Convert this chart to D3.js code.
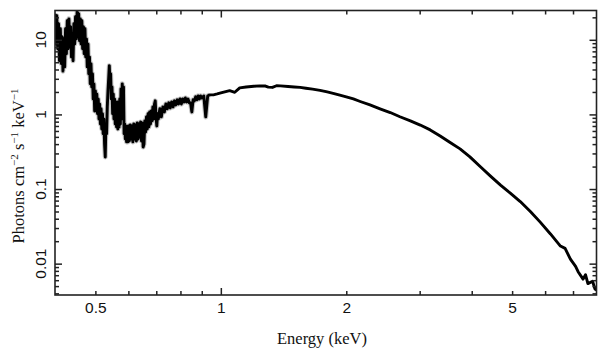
<!DOCTYPE html>
<html><head><meta charset="utf-8">
<script src="https://cdn.jsdelivr.net/npm/d3@7"></script>
<style>body{margin:0;background:#fff}svg{display:block}</style>
</head><body>
<svg id="c" width="608" height="357"></svg>
<script>
// Spectrum: energy (keV) and flux (photons cm^-2 s^-1 keV^-1)
const energy = [
0.400,0.402,0.404,0.406,0.408,0.410,0.412,0.414,0.416,0.418,0.420,0.422,0.424,0.426,0.428,0.430,0.432,0.434,0.436,0.438,
0.440,0.442,0.444,0.446,0.448,0.450,0.452,0.454,0.456,0.458,0.460,0.462,0.464,0.466,0.468,0.470,0.472,0.474,0.476,0.478,
0.480,0.482,0.484,0.486,0.488,0.490,0.492,0.494,0.496,0.498,0.500,
0.502,0.504,0.506,0.508,0.510,0.512,0.514,0.516,0.518,0.520,0.522,0.524,0.526,0.528,0.530,0.532,0.534,0.536,0.538,0.540,
0.542,0.544,0.546,0.548,0.550,0.552,0.554,0.556,0.558,0.560,0.562,0.564,0.566,0.568,0.570,0.572,0.574,0.576,0.578,0.580,
0.582,0.584,0.586,0.588,0.590,0.592,0.594,0.596,0.598,0.600,
0.603,0.606,0.609,0.612,0.615,0.618,0.621,0.624,0.627,0.630,0.633,0.636,0.639,0.642,0.645,0.648,0.651,0.654,
0.657,0.660,0.663,0.666,0.669,0.672,0.675,0.678,0.681,0.684,0.687,0.690,0.693,0.696,0.699,0.702,0.705,0.708,
0.714,0.720,0.726,0.732,0.738,0.744,0.750,0.756,0.762,0.768,0.774,0.780,0.786,0.792,0.798,0.804,
0.810,0.816,0.822,0.828,0.834,0.840,0.846,0.852,0.858,0.864,0.870,0.876,0.882,0.888,0.894,0.900,
0.910,0.920,0.930,0.940,0.960,0.980,
1.00,1.05,1.08,1.11,1.15,1.20,1.24,1.28,1.30,1.33,1.36,1.39,1.45,1.50,1.55,1.60,1.66,1.73,1.80,1.87,1.93,
2.00,2.08,2.16,2.28,2.41,2.55,2.69,2.85,3.01,3.18,3.36,3.55,3.75,3.96,4.19,4.43,4.69,4.95,5.23,5.53,5.84,6.18,
6.53,6.70,6.90,7.10,7.20,7.40,7.50,7.60,7.80,7.90,7.97];
const flux = [
22.3,8.8,21.0,7.6,16.4,5.23,14.1,4.8,11.0,3.8,10.3,4.34,14.1,6.5,18.0,7.6,19.1,8.05,15.0,5.9,
12.0,5.23,16.4,8.8,20.4,10.3,23.8,11.0,22.3,9.7,19.1,8.8,18.0,7.6,15.0,6.5,14.1,5.9,10.3,4.34,
8.8,3.5,5.9,2.57,4.8,2.34,3.5,1.61,2.57,1.11,2.07,
1.11,1.88,1.02,1.61,0.87,1.38,0.745,1.19,0.638,1.02,0.55,0.87,0.40,0.269,0.745,0.55,1.26,2.07,3.0,4.5,
2.57,3.5,1.61,2.34,1.02,1.88,0.87,1.61,0.745,1.38,0.680,1.47,0.638,1.38,0.680,1.61,0.745,2.20,0.87,2.57,
1.19,2.34,0.55,0.745,0.469,0.701,0.428,0.680,0.428,0.701,
0.441,0.723,0.469,0.701,0.428,0.745,0.469,0.723,0.441,0.769,0.469,0.745,0.499,0.793,0.441,0.769,0.366,0.40,
0.82,0.582,0.926,0.638,1.02,0.680,1.08,0.745,1.11,0.82,1.26,0.87,1.38,1.52,0.926,0.701,1.02,0.87,
1.19,0.926,1.26,1.08,1.38,1.19,1.43,1.22,1.47,1.26,1.52,1.34,1.57,1.38,1.61,1.38,
1.61,1.47,1.66,1.47,1.61,1.43,1.43,1.08,1.57,1.52,1.72,1.57,1.77,1.61,1.77,1.66,
1.77,0.926,1.77,1.83,1.83,1.88,
1.94,2.08,1.98,2.27,2.33,2.38,2.41,2.40,2.32,2.30,2.42,2.41,2.37,2.33,2.30,2.24,2.18,2.10,2.00,1.90,1.81,
1.72,1.61,1.49,1.34,1.19,1.06,0.93,0.82,0.72,0.62,0.515,0.42,0.345,0.27,0.20,0.15,0.113,0.088,0.068,0.050,0.036,0.025,
0.0172,0.0160,0.0115,0.0092,0.0078,0.0062,0.0071,0.0054,0.0058,0.0046,0.0044];

const xMinor = [0.5,0.6,0.7,0.8,0.9,2,3,4,5,6,7];
const xMajor = [1];
const xLabels = [0.5,1,2,5];
const yMajor = [0.01,0.1,1,10];
const yMinor = [0.004,0.005,0.006,0.007,0.008,0.009,0.02,0.03,0.04,0.05,0.06,0.07,0.08,0.09,
                0.2,0.3,0.4,0.5,0.6,0.7,0.8,0.9,2,3,4,5,6,7,8,9,20];
const yLabels = [0.01,0.1,1,10];

const L = 55, R = 596.5, T = 10.5, B = 295;
const svg = d3.select("#c");
const x = d3.scaleLog().domain([0.4, 7.97]).range([L, R]);
const y = d3.scaleLog().domain([0.0038, 24.7]).range([B, T]);
const fmt = d => (d >= 1 ? d3.format("d")(d) : String(d));

const data = energy.map((e, i) => [e, flux[i]]);
const line = d3.line().x(d => x(d[0])).y(d => y(d[1])).curve(d3.curveLinear);

svg.append("clipPath").attr("id","pc").append("rect")
  .attr("x", L).attr("y", T).attr("width", R - L).attr("height", B - T);
const g = svg.append("g").attr("clip-path","url(#pc)");
// light grey error envelope, visible in the noisy soft band
g.append("path").datum(data.filter(d => d[0] < 0.95)).attr("d", line)
  .attr("fill","none").attr("stroke","#c4c4c4").attr("stroke-width",5).attr("stroke-linejoin","round");
g.append("path").datum(data).attr("d", line)
  .attr("fill","none").attr("stroke","#000").attr("stroke-width",2.9).attr("stroke-linejoin","round");

function styleAxis(sel){
  sel.select(".domain").remove();
  sel.selectAll(".tick line").attr("stroke","#222").attr("stroke-width",1.5);
}
// tick marks on all four sides, pointing inward
[[xMinor,4],[xMajor,7]].forEach(([vals,len]) => {
  svg.append("g").attr("transform",`translate(0,${B})`)
    .call(d3.axisBottom(x).tickValues(vals).tickSizeInner(-len).tickSizeOuter(0).tickFormat(""))
    .call(styleAxis);
  svg.append("g").attr("transform",`translate(0,${T})`)
    .call(d3.axisTop(x).tickValues(vals).tickSizeInner(-len).tickSizeOuter(0).tickFormat(""))
    .call(styleAxis);
});
[[yMinor,4],[yMajor,7]].forEach(([vals,len]) => {
  svg.append("g").attr("transform",`translate(${L},0)`)
    .call(d3.axisLeft(y).tickValues(vals).tickSizeInner(-len).tickSizeOuter(0).tickFormat(""))
    .call(styleAxis);
  svg.append("g").attr("transform",`translate(${R},0)`)
    .call(d3.axisRight(y).tickValues(vals).tickSizeInner(-len).tickSizeOuter(0).tickFormat(""))
    .call(styleAxis);
});

// x labels
const xl = svg.append("g").attr("transform",`translate(0,${B})`)
  .call(d3.axisBottom(x).tickValues(xLabels).tickSize(0).tickPadding(7).tickFormat(fmt));
xl.select(".domain").remove();
xl.selectAll("text").attr("font-family","'Liberation Sans', Arial, sans-serif")
  .attr("font-size",15.5).attr("fill","#111");

// y labels (rotated)
svg.append("g").selectAll("text").data(yLabels).join("text")
  .attr("transform", d => `translate(46,${y(d)}) rotate(-90)`)
  .attr("text-anchor","middle")
  .attr("font-family","'Liberation Sans', Arial, sans-serif")
  .attr("font-size",15.5).attr("fill","#111")
  .text(fmt);

// frame
svg.append("rect").attr("x",L).attr("y",T).attr("width",R-L).attr("height",B-T)
  .attr("fill","none").attr("stroke","#222").attr("stroke-width",1.6);

// titles
svg.append("text").attr("x",322).attr("y",344).attr("text-anchor","middle")
  .attr("font-family","'Liberation Serif', 'Times New Roman', serif").attr("font-size",16.5).attr("fill","#111")
  .text("Energy (keV)");

const yt = svg.append("text").attr("transform","translate(23.5,166) rotate(-90)")
  .attr("text-anchor","middle")
  .attr("font-family","'Liberation Serif', 'Times New Roman', serif").attr("font-size",16.5).attr("fill","#111");
const parts = [["Photons cm",false],["\u22122",true],[" s",false],["\u22121",true],[" keV",false],["\u22121",true]];
let up = false;
parts.forEach(([t,sup]) => {
  const ts = yt.append("tspan").text(t);
  if (sup) { ts.attr("font-size",11).attr("dy", up ? 0 : -6); up = true; }
  else if (up) { ts.attr("dy", 6); up = false; }
});
</script>
</body></html>
